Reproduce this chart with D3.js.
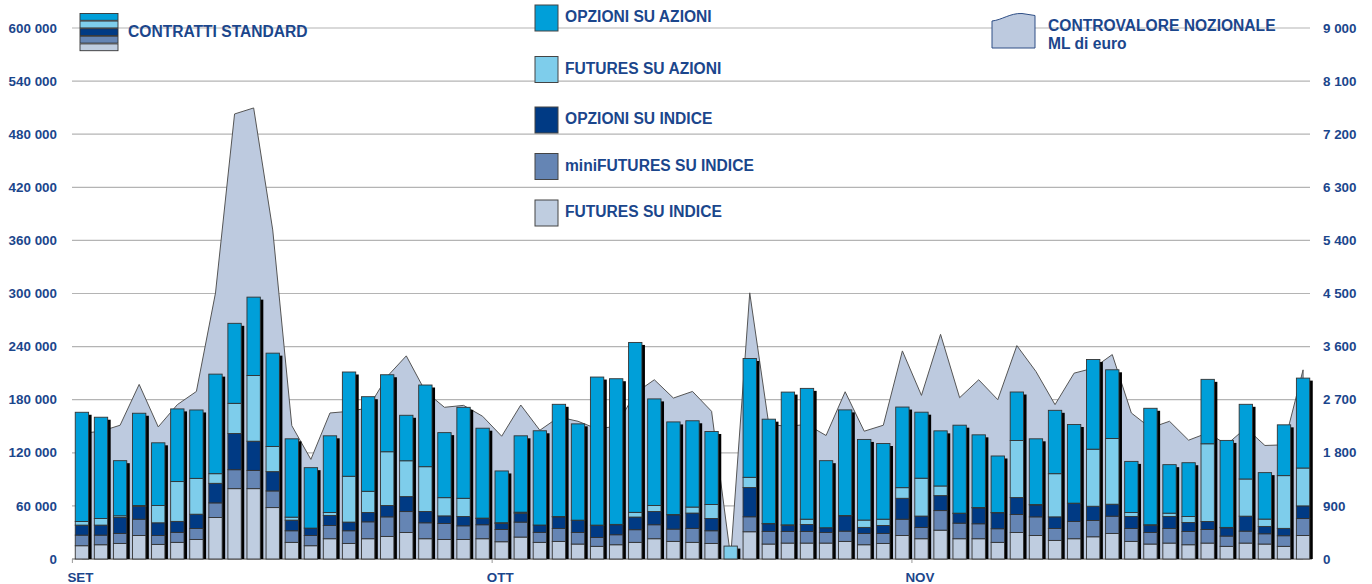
<!DOCTYPE html>
<html>
<head>
<meta charset="utf-8">
<script src="https://cdn.jsdelivr.net/npm/d3@7"></script>
<style>
body { margin: 0; background: #fff; }
text { font-family: 'Liberation Sans', Arial, sans-serif; font-weight: bold; fill: #1b468c; }
</style>
</head>
<body>
<div id="graphic"></div>
<script>
// contratti standard, migliaia per giorno
var futIndice = [15, 16.1, 17.6, 26.6, 16.5, 18.8, 22.1, 46.9, 79.5, 79.5, 58.1, 18.8, 15, 22.9, 17.6, 22.9, 25.5, 30, 22.9, 22.1, 22.1, 22.9,
  19.5, 24.8, 18.8, 19.9, 16.9, 14.3, 16.1, 18.8, 22.9, 19.9, 18.8, 17.6, 0, 30.8, 16.9, 18, 18, 18, 19.9, 16.1, 17.6,
  26.6, 22.9, 32.6, 22.9, 22.9, 18.8, 30, 26.6, 21, 22.9, 25.1, 28.9, 19.9, 16.9, 18, 16.1, 18, 14.3, 18, 16.9, 14.3, 26.6]
var miniFut = [12, 10.9, 11.3, 18.4, 10.1, 11.3, 12.4, 16.5, 21.4, 20.6, 18.8, 13.1, 11.6, 15, 14.3, 19.1, 22.1, 23.6, 18, 18, 15.4, 15.8,
  13.9, 16.9, 11.3, 14.6, 13.1, 10.1, 11.3, 14.3, 15.8, 13.9, 15.8, 14.3, 0, 16.9, 14.3, 13.1, 13.1, 12, 11.6, 12.8, 11.3,
  18.4, 12.8, 22.1, 17.6, 16.9, 15.4, 20.3, 21, 13.5, 19.5, 18.4, 19.5, 14.6, 13.1, 16.5, 15, 15.4, 11.6, 13.5, 11.6, 12, 19.1]
var opzIndice = [11.3, 11.3, 18, 14.3, 14.3, 12.4, 16.1, 22.1, 40.9, 33, 21.8, 12, 8.3, 11.3, 9.8, 10.5, 12.8, 16.9, 12.8, 8.6, 10.5, 7.1,
  6.8, 10.1, 8.3, 13.1, 13.5, 13.5, 11.3, 14.3, 15, 16.1, 17.3, 13.9, 0, 33, 8.6, 7.1, 7.9, 5.3, 17.3, 6.8, 9,
  23.6, 12.8, 16.9, 10.9, 18, 18, 19.1, 13.5, 13.1, 20.3, 16.1, 13.5, 13.5, 8.3, 13.5, 10.1, 9, 9.4, 16.9, 8.3, 8.3, 14.3]
var futAzioni = [4.1, 7.5, 1.9, 1.1, 19.5, 45, 40.5, 10.9, 34.1, 74.3, 28.5, 3.4, 0, 3.4, 51.8, 24, 60.8, 40.5, 50.6, 20.6, 20.6, 0.4,
  0.8, 1.1, 0, 0.4, 0.4, 0.4, 0.4, 5.3, 6.8, 0.4, 6.8, 15.8, 14.6, 11.6, 0.4, 0.4, 6, 0, 0.4, 8.3, 7.1,
  12, 42.8, 10.9, 0.4, 0.4, 0.4, 64.5, 0.4, 48.8, 0.4, 64.5, 74.3, 4.5, 0.4, 3.8, 6.8, 87.8, 0.4, 42, 8.3, 59.6, 42.8]
var opzAzioni = [123.4, 114.4, 62.3, 104.3, 70.9, 82.1, 77.3, 112.5, 90.4, 88.5, 105.4, 88.5, 68.3, 86.6, 117.8, 106.9, 87, 51.4, 92.3, 73.5, 102.8, 101.6,
  58.5, 86.3, 106.5, 126.8, 108.8, 167.3, 164.6, 192, 120.4, 104.6, 97.5, 82.5, 0, 134.3, 117.8, 150, 147.8, 75.8, 119.3, 91.1, 85.5,
  91.1, 74.6, 62.3, 99.4, 82.1, 63.8, 54.8, 74.3, 71.6, 88.9, 101.3, 77.6, 57.8, 131.6, 54.8, 60.8, 72.8, 98.3, 84.4, 52.5, 57.4, 101.6]
// controvalore nozionale, milioni di euro
var controvalore = [2130, 2165, 2267, 2959, 2239, 2616, 2840, 4509, 7543, 7645, 5577, 2260, 1688, 2475, 2503, 2559, 3094, 3443, 2840, 2571, 2604, 2419,
  2081, 2610, 2182, 2407, 2334, 2205, 2250, 2812, 3038, 2728, 2840, 2503, 30, 4511, 2278, 2250, 2280, 2093, 2835, 2166, 2267,
  3527, 2773, 3808, 2734, 3038, 2700, 3617, 3178, 2616, 3150, 3234, 3465, 2475, 2222, 2334, 2014, 2137, 1940, 2222, 1924, 1935, 3206]

var mesi = ['SET', 'OTT', 'NOV']
var inizioMese = [0, 22, 44]

var serie = ['futIndice', 'miniFut', 'opzIndice', 'futAzioni', 'opzAzioni']
var nomi = ['FUTURES SU INDICE', 'miniFUTURES SU INDICE', 'OPZIONI SU INDICE', 'FUTURES SU AZIONI', 'OPZIONI SU AZIONI']
var colori = ['#bfcde0', '#6585b4', '#003a84', '#7ecdeb', '#009fd9']

var width = 1372
var height = 584
var n = futIndice.length

var svg = d3.select('#graphic')
  .append('svg')
  .attr('width', width)
  .attr('height', height)

var x = d3.scaleBand().domain(d3.range(n)).range([72, 1313]).paddingInner(0.3).paddingOuter(0.17)
var y = d3.scaleLinear().domain([0, 600]).range([559, 28])
var y2 = d3.scaleLinear().domain([0, 9000]).range([559, 28])
var bw = x.bandwidth()

var fmt = d3.formatLocale({decimal: ',', thousands: ' ', grouping: [3], currency: ['', '']}).format(',')

// griglia e assi
var tickSx = d3.range(0, 601, 60)
svg.selectAll('line.grid').data(tickSx.slice(1)).join('line')
  .attr('x1', 72).attr('x2', 1310)
  .attr('y1', d => y(d)).attr('y2', d => y(d))
  .attr('stroke', '#b4b4b4').attr('stroke-width', 1.2)

svg.selectAll('text.sx').data(tickSx).join('text')
  .attr('x', 57).attr('y', d => y(d)).attr('dy', '0.35em')
  .attr('text-anchor', 'end').attr('font-size', 13.4)
  .text(d => fmt(d * 1000))

svg.selectAll('text.dx').data(d3.range(0, 9001, 900)).join('text')
  .attr('x', 1323).attr('y', d => y2(d)).attr('dy', '0.35em')
  .attr('font-size', 13.4)
  .text(d => fmt(d))

// area controvalore
var area = d3.area()
  .x((d, i) => x(i) + bw / 2)
  .y0(y(0))
  .y1(d => y2(d))

svg.append('path')
  .attr('d', area(controvalore))
  .attr('fill', '#bdcadf').attr('stroke', '#555').attr('stroke-width', 1)

svg.append('line')
  .attr('x1', 72).attr('x2', 1312).attr('y1', y(0)).attr('y2', y(0))
  .attr('stroke', '#999').attr('stroke-width', 1.5)

// barre impilate
var dati = d3.range(n).map(i => ({
  futIndice: futIndice[i], miniFut: miniFut[i], opzIndice: opzIndice[i], futAzioni: futAzioni[i], opzAzioni: opzAzioni[i]
}))
var stack = d3.stack().keys(serie)(dati)
var totali = dati.map(d => d3.sum(serie, k => d[k]))

svg.selectAll('rect.ombra').data(totali).join('rect')
  .attr('x', (d, i) => x(i) + 3)
  .attr('y', d => y(d) + 2.5)
  .attr('width', bw)
  .attr('height', d => Math.max(0, y(0) - y(d) - 2.5))
  .attr('fill', '#000')

stack.forEach((s, k) => {
  svg.append('g').selectAll('rect').data(s.filter(d => d[1] - d[0] > 0)).join('rect')
    .attr('x', d => x(dati.indexOf(d.data)))
    .attr('y', d => y(d[1]))
    .attr('width', bw)
    .attr('height', d => y(d[0]) - y(d[1]))
    .attr('fill', colori[k])
    .attr('stroke', '#333').attr('stroke-width', 0.9)
})

// mesi
var passo = x.step()
svg.selectAll('line.tick').data(inizioMese).join('line')
  .attr('x1', d => x(d) - passo * 0.15).attr('x2', d => x(d) - passo * 0.15)
  .attr('y1', y(0)).attr('y2', y(0) + 4)
  .attr('stroke', '#999')

svg.selectAll('text.mese').data(mesi).join('text')
  .attr('x', (d, i) => x(inizioMese[i]) + bw / 2 - 1.5)
  .attr('y', 581.5)
  .attr('text-anchor', 'middle').attr('font-size', 13.4)
  .text(d => d)

// legenda sinistra
svg.selectAll('rect.legsx').data(colori.slice().reverse()).join('rect')
  .attr('x', 80).attr('y', (d, i) => 13.5 + i * 7.6)
  .attr('width', 38).attr('height', 6.8)
  .attr('fill', d => d).attr('stroke', '#333').attr('stroke-width', 0.9)
svg.append('text').attr('x', 128).attr('y', 36.7).attr('font-size', 15.6).text('CONTRATTI STANDARD')

// legenda centrale
var legY = [5, 56.5, 107, 153.5, 200]
var leg = svg.selectAll('g.leg').data(d3.range(5).map(i => 4 - i)).join('g')
  .attr('transform', (d, i) => `translate(535, ${legY[i]})`)
leg.append('rect')
  .attr('width', 23).attr('height', 26)
  .attr('fill', d => colori[d]).attr('stroke', '#444').attr('stroke-width', 1)
leg.append('text')
  .attr('x', 30).attr('y', 17).attr('font-size', 15.6)
  .text(d => nomi[d])

// legenda area
svg.append('path')
  .attr('d', 'M992,48 L992,21 C1002,20 1010,13 1022,13.5 L1035,15.5 L1035,48 Z')
  .attr('fill', '#bdcadf').attr('stroke', '#2f4f86').attr('stroke-width', 1)
svg.append('text').attr('x', 1048).attr('y', 31).attr('font-size', 15.6).text('CONTROVALORE NOZIONALE')
svg.append('text').attr('x', 1048).attr('y', 49).attr('font-size', 15.6).text('ML di euro')
</script>
</body>
</html>
